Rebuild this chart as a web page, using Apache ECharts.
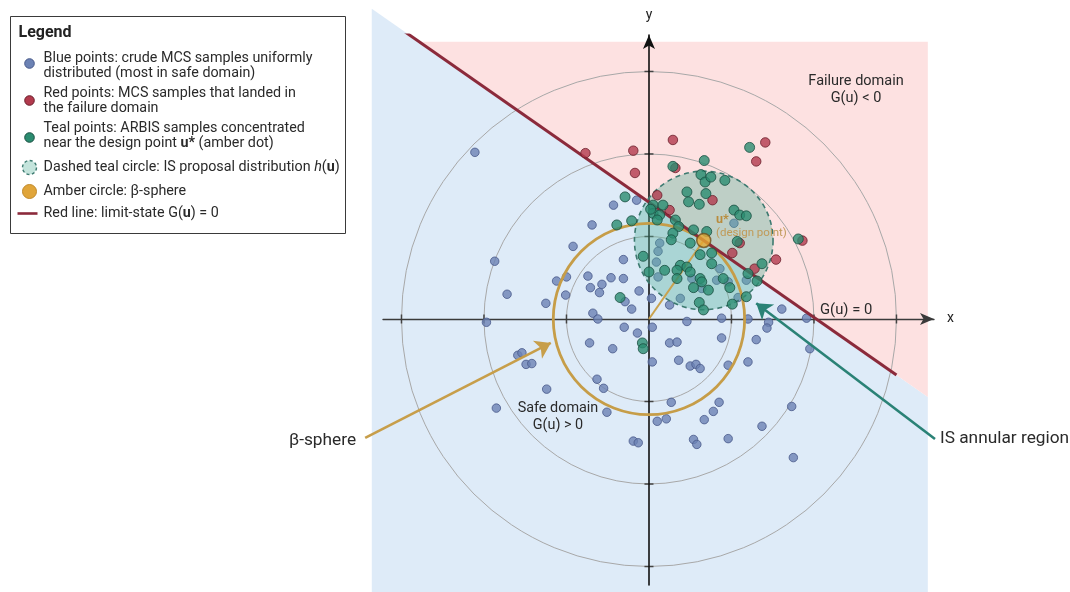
<!DOCTYPE html>
<html>
<head>
<meta charset="utf-8">
<script src="https://cdn.jsdelivr.net/npm/echarts@6/dist/echarts.min.js"></script>
<style>
  html, body { margin: 0; padding: 0; background: #ffffff; }
  #chart { width: 1070px; height: 592px; }
</style>
</head>
<body>
<div id="chart"></div>
<script>
// ---- standard-normal space u = (x, y) ----
const gridRadii = [1, 2, 3];
const tickValues = [-3, -2, -1, 1, 2, 3];
const limitState = [[-3.0, 3.51], [3.0, -0.68]];   // segment of G(u) = 0
const designPoint = [0.664, 0.952];                // u*
const betaRadius = 1.16;                            // |u*|
const proposalRadius = 0.84;                        // spread of h(u)

// crude MCS samples in the safe domain
const blueSamples = [
  [-2.11, 2.02], [-0.43, 1.38], [-0.15, 1.44], [-0.69, 1.14], [-0.92, 0.88], [-1.87, 0.70],
  [-0.31, 0.72], [-1.12, 0.46], [-1.00, 0.51], [-0.74, 0.52], [-0.46, 0.50], [-0.31, 0.49],
  [-0.57, 0.42], [-0.71, 0.38], [-0.60, 0.32], [-1.72, 0.30], [-1.25, 0.19], [-1.01, 0.29],
  [-0.12, 0.34], [-0.29, 0.21], [-0.21, 0.12], [-0.68, 0.07], [-0.62, 0.00], [0.03, 0.25],
  [-1.97, -0.04], [-0.30, -0.10], [-0.14, -0.17], [-0.72, -0.29], [-0.44, -0.36], [-1.59, -0.44],
  [-1.54, -0.41], [-1.49, -0.55], [-1.42, -0.54], [-0.63, -0.73], [-0.55, -0.84], [-1.24, -0.85],
  [1.03, 1.16], [0.13, 0.92], [0.11, 0.82], [0.09, 0.69], [0.86, 0.61], [0.11, 0.51],
  [0.52, 0.49], [0.82, 0.47], [0.96, 0.45], [1.18, 0.47], [0.64, 0.37], [0.38, 0.25],
  [0.25, 0.17], [1.08, 0.26], [1.61, 0.12], [0.88, 0.01], [1.20, 0.00], [1.45, -0.04],
  [1.43, -0.11], [1.91, 0.01], [0.46, -0.03], [0.04, -0.10], [1.95, -0.36], [0.88, -0.23],
  [1.30, -0.25], [0.25, -0.29], [0.34, -0.28], [0.04, -0.52], [0.36, -0.50], [0.50, -0.57],
  [0.57, -0.55], [0.62, -0.60], [0.96, -0.56], [1.20, -0.52], [-1.85, -1.08], [-0.51, -1.13],
  [0.10, -1.24], [0.21, -1.21], [-0.19, -1.48], [-0.13, -1.50], [0.27, -1.01], [0.85, -1.01],
  [0.78, -1.12], [0.67, -1.22], [0.54, -1.46], [0.58, -1.52], [0.96, -1.45], [1.37, -1.30],
  [1.73, -1.06], [1.75, -1.68]
];

// MCS samples that fell in the failure domain
const redSamples = [
  [-0.77, 2.01], [-0.19, 2.04], [-0.17, 1.77], [0.10, 1.50], [0.29, 2.17], [0.32, 1.83],
  [1.41, 2.14], [1.30, 1.91], [0.77, 1.44], [0.25, 1.32], [1.10, 0.92], [1.86, 0.95],
  [1.01, 0.80], [1.54, 0.72], [1.28, 0.61]
];

// ARBIS samples around the design point
const tealSamples = [
  [-0.29, 1.48], [0.29, 1.85], [0.67, 1.92], [1.22, 2.08], [0.63, 1.75], [0.68, 1.66],
  [0.75, 1.72], [0.92, 1.68], [0.46, 1.54], [0.69, 1.52], [0.05, 1.38], [0.17, 1.38],
  [0.48, 1.42], [0.61, 1.39], [0.05, 1.28], [0.13, 1.26], [0.32, 1.20], [0.36, 1.12],
  [1.03, 1.32], [1.10, 1.26], [1.18, 1.25], [0.29, 1.04], [0.27, 0.96], [0.54, 1.08],
  [0.50, 0.92], [0.70, 1.06], [1.07, 0.94], [1.81, 0.97], [1.37, 0.67], [-0.07, 0.76],
  [0.62, 0.78], [0.76, 0.80], [0.38, 0.65], [0.46, 0.63], [0.50, 0.57], [0.34, 0.59],
  [0.76, 0.67], [0.00, 0.57], [0.19, 0.59], [0.34, 0.49], [0.62, 0.49], [0.64, 0.45],
  [0.90, 0.49], [1.20, 0.55], [1.31, 0.46], [0.54, 0.38], [0.72, 0.35], [0.98, 0.38],
  [0.61, 0.20], [0.66, 0.11], [1.01, 0.18], [1.18, 0.27], [-0.39, 1.14], [-0.21, 1.19],
  [-0.35, 0.26], [-0.08, -0.29], [-0.07, -0.36], [0.02, 1.33], [0.10, 1.20]
];

const FONT = 'Roboto, "Liberation Sans", Arial, sans-serif';
const TEXT = '#2a2a2a';

// limit-state line y = c0 + m x, used to split the panel into the two domains
const m = (limitState[1][1] - limitState[0][1]) / (limitState[1][0] - limitState[0][0]);
const c0 = limitState[0][1] - m * limitState[0][0];
const lineY = x => c0 + m * x;

function rich(size, color) {
  return {
    n: { fontFamily: FONT, fontSize: size, fill: color, color: color },
    b: { fontFamily: FONT, fontSize: size, fontWeight: 'bold', fill: color, color: color },
    i: { fontFamily: FONT, fontSize: size, fontStyle: 'italic', fill: color, color: color }
  };
}

const chart = echarts.init(document.getElementById('chart'), null, { renderer: 'canvas' });

const panel = { left: -3.36, right: 3.38, bottom: -3.42, failTop: 3.36 };

const notes = [
  { at: [2.51, 2.776], text: '{n|Failure domain}\n{n|G(u) < 0}', size: 14.5, align: 'center', lh: 17 },
  { at: [2.39, 0.109], text: '{n|G(u) = 0}', size: 14.8, align: 'center' },
  { at: [-1.103, -1.188], text: '{n|Safe domain}\n{n|G(u) > 0}', size: 14.4, align: 'center', lh: 16.5 },
  { at: [0.812, 1.20], text: '{b|u*}', size: 12.5, align: 'left', color: '#b98c3c' },
  { at: [0.812, 1.042], text: '{n|(design point)}', size: 11.5, align: 'left', color: '#c09a58' },
  { at: [-3.55, -1.475], text: '{n|β-sphere}', size: 17.3, align: 'right' },
  { at: [3.527, -1.455], text: '{n|IS annular region}', size: 17.3, align: 'left' }
];

const LF = 14.3;
const legendRich = rich(LF, TEXT);
function ltext(x, y, t, extra) {
  return Object.assign({ type: 'text', x: x, y: y, style: { text: t, rich: legendRich, verticalAlign: 'middle', fontFamily: FONT, fontSize: LF, fill: TEXT } }, extra || {});
}
function lcircle(x, y, r, fill, stroke, dash, lw) {
  return { type: 'circle', shape: { cx: x, cy: y, r: r }, style: { fill: fill, stroke: stroke, lineWidth: lw || 1, lineDash: dash || null } };
}

const option = {
  animation: false,
  backgroundColor: '#ffffff',
  grid: { left: 383, right: 136, top: 35, bottom: 7, containLabel: false },
  xAxis: {
    type: 'value', min: -3.224, max: 3.455, z: 3,
    axisLine: { onZero: true, symbol: ['none', 'arrow'], symbolSize: [9, 14], lineStyle: { color: '#3a3a3a', width: 1.4 } },
    axisTick: { show: false }, axisLabel: { show: false }, splitLine: { show: false },
    name: 'x', nameLocation: 'end', nameGap: 13,
    nameTextStyle: { fontFamily: FONT, fontSize: 14, color: '#222' }
  },
  yAxis: {
    type: 'value', min: -3.224, max: 3.442, z: 3,
    axisLine: { onZero: true, symbol: ['none', 'arrow'], symbolSize: [9, 14], lineStyle: { color: '#111', width: 1.6 } },
    axisTick: { show: false }, axisLabel: { show: false }, splitLine: { show: false },
    name: 'y', nameLocation: 'end', nameGap: 13,
    nameTextStyle: { fontFamily: FONT, fontSize: 14, color: '#222' }
  },
  series: [
    {
      // safe and failure domains
      type: 'custom', z: 1, clip: false, silent: true,
      data: [[0, 0]],
      renderItem: function (params, api) {
        const L = panel.left, R = panel.right, B = panel.bottom, T = panel.failTop;
        const safe = [[L, lineY(L)], [R, lineY(R)], [R, B], [L, B]].map(p => api.coord(p));
        const fail = [[(T - c0) / m, T], [R, T], [R, lineY(R)]].map(p => api.coord(p));
        return { type: 'group', children: [
          { type: 'polygon', shape: { points: safe }, style: { fill: '#deebf8' } },
          { type: 'polygon', shape: { points: fail }, style: { fill: '#fde1e1' } }
        ] };
      }
    },
    {
      // concentric reference circles
      type: 'custom', z: 2, clip: false, silent: true,
      data: gridRadii.map(r => [r, 0]),
      renderItem: function (params, api) {
        const c = api.coord([0, 0]);
        const r = api.size([api.value(0), 0])[0];
        return { type: 'circle', shape: { cx: c[0], cy: c[1], r: r }, style: { fill: 'none', stroke: '#a8a8a8', lineWidth: 1 } };
      }
    },
    {
      // tick marks crossing both axes
      type: 'custom', z: 3, clip: false, silent: true,
      data: tickValues.map(v => [v, 0, 0]).concat(tickValues.map(v => [0, v, 1])),
      renderItem: function (params, api) {
        const p = api.coord([api.value(0), api.value(1)]);
        const h = 4.5;
        const shape = api.value(2) === 0
          ? { x1: p[0], y1: p[1] - h, x2: p[0], y2: p[1] + h }
          : { x1: p[0] - h, y1: p[1], x2: p[0] + h, y2: p[1] };
        return { type: 'line', shape: shape, style: { stroke: '#444', lineWidth: 1.5 } };
      }
    },
    {
      name: 'Blue points', type: 'scatter', z: 4, data: blueSamples, symbolSize: 8.5,
      itemStyle: { color: '#6c82b4', borderColor: '#48598a', borderWidth: 1 }
    },
    {
      // IS proposal distribution h(u)
      type: 'custom', z: 5, clip: false, silent: true,
      data: [[designPoint[0], designPoint[1], proposalRadius]],
      renderItem: function (params, api) {
        const c = api.coord([api.value(0), api.value(1)]);
        const r = api.size([api.value(2), 0])[0];
        return { type: 'circle', shape: { cx: c[0], cy: c[1], r: r },
          style: { fill: 'rgba(86,178,156,0.38)', stroke: '#3d7a70', lineWidth: 1.6, lineDash: [5, 4] } };
      }
    },
    {
      // beta-sphere
      type: 'custom', z: 6, clip: false, silent: true,
      data: [[betaRadius, 0]],
      renderItem: function (params, api) {
        const c = api.coord([0, 0]);
        const r = api.size([api.value(0), 0])[0];
        return { type: 'circle', shape: { cx: c[0], cy: c[1], r: r }, style: { fill: 'none', stroke: '#c69d48', lineWidth: 2.8 } };
      }
    },
    {
      // reliability index: origin to u*
      type: 'line', z: 6, data: [[0, 0], designPoint], symbol: 'none', silent: true,
      lineStyle: { color: '#c9a24e', width: 2 }
    },
    {
      name: 'limit-state', type: 'line', z: 6, data: limitState, symbol: 'none', silent: true,
      lineStyle: { color: '#8b2a3b', width: 3 }
    },
    {
      name: 'Red points', type: 'scatter', z: 7, data: redSamples, symbolSize: 9.5,
      itemStyle: { color: '#b23a4d', borderColor: '#6a1e2b', borderWidth: 1 }
    },
    {
      name: 'Teal points', type: 'scatter', z: 8, data: tealSamples, symbolSize: 10,
      itemStyle: { color: '#2b8c70', borderColor: '#1a4f41', borderWidth: 1 }
    },
    {
      name: 'u*', type: 'scatter', z: 9, data: [designPoint], symbolSize: 14,
      itemStyle: { color: '#e6a832', borderColor: '#6e4f1d', borderWidth: 1.5 }
    },
    {
      // call-out arrows
      type: 'lines', coordinateSystem: 'cartesian2d', z: 9, clip: false, silent: true,
      symbol: ['none', 'arrow'], symbolSize: 15,
      lineStyle: { opacity: 1, curveness: 0 },
      data: [
        { coords: [[-3.44, -1.44], [-1.19, -0.29]], lineStyle: { color: '#c79e4a', width: 2.6, opacity: 1 } },
        { coords: [[3.467, -1.455], [1.30, 0.19]], lineStyle: { color: '#2a8276', width: 2.6, opacity: 1 } }
      ]
    },
    {
      // text annotations
      type: 'custom', z: 10, clip: false, silent: true,
      data: notes.map(n => n.at),
      renderItem: function (params, api) {
        const n = notes[params.dataIndex];
        const p = api.coord([api.value(0), api.value(1)]);
        return { type: 'text', x: p[0], y: p[1], style: {
          text: n.text, rich: rich(n.size, n.color || TEXT), align: n.align, verticalAlign: 'middle',
          lineHeight: n.lh || n.size + 2, fontFamily: FONT, fontSize: n.size, fill: n.color || TEXT } };
      }
    }
  ],
  graphic: [
    {
      type: 'group', left: 10, top: 16, z: 20,
      children: [
        { type: 'rect', shape: { x: 0, y: 0, width: 335, height: 217 }, style: { fill: '#ffffff', stroke: '#3a3a3a', lineWidth: 1 } },
        ltext(8, 16, '', { style: { text: '{lb|Legend}', rich: { lb: { fontFamily: FONT, fontSize: 16, fontWeight: 'bold', fill: '#222' } }, verticalAlign: 'middle' } }),
        lcircle(19, 47, 4.8, '#6c82b4', '#48598a'),
        ltext(33, 42, '{n|Blue points: crude MCS samples uniformly}'),
        ltext(33, 57, '{n|distributed (most in safe domain)}'),
        lcircle(19, 84, 4.8, '#b23a4d', '#6a1e2b'),
        ltext(33, 77, '{n|Red points: MCS samples that landed in}'),
        ltext(33, 92, '{n|the failure domain}'),
        lcircle(19, 121, 4.8, '#2b8c70', '#1a4f41'),
        ltext(33, 112, '{n|Teal points: ARBIS samples concentrated}'),
        ltext(33, 127, '{n|near the design point }{b|u*}{n| (amber dot)}'),
        lcircle(19, 151, 7, 'rgba(86,178,156,0.35)', '#3d7a70', [3, 2.5], 1.4),
        ltext(33, 151, '{n|Dashed teal circle: IS proposal distribution }{i|h}{n|(}{b|u}{n|)}'),
        lcircle(19, 175, 7, '#e0a53a', '#c18a2a'),
        ltext(33, 175, '{n|Amber circle: β-sphere}'),
        { type: 'line', shape: { x1: 7, y1: 197, x2: 27, y2: 197 }, style: { stroke: '#8b2a3b', lineWidth: 2.6 } },
        ltext(33, 197, '{n|Red line: limit-state G(}{b|u}{n|) = 0}')
      ]
    }
  ]
};

chart.setOption(option);
</script>
</body>
</html>
